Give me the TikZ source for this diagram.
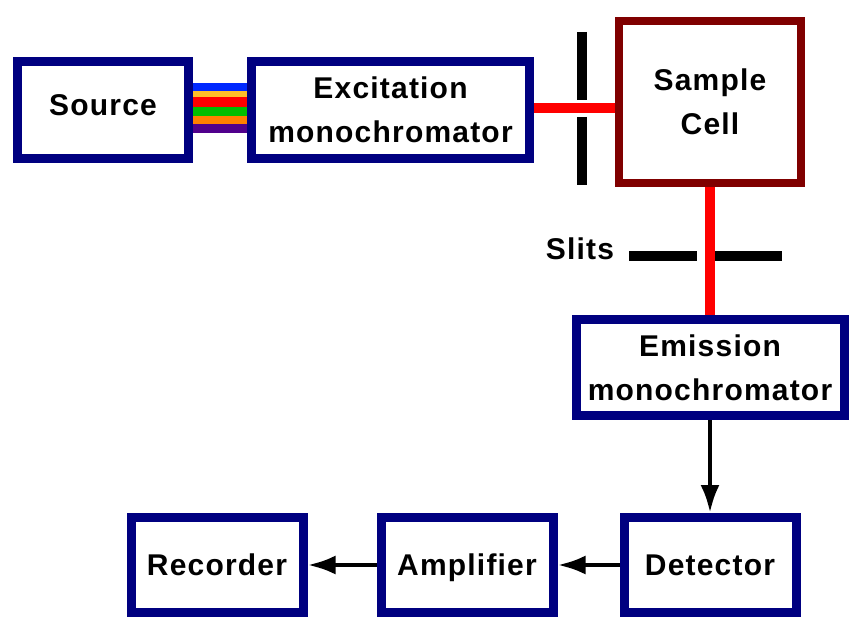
\documentclass[tikz,border=0pt]{standalone}
\usepackage{fontspec}
\setmainfont{Liberation Sans}[LetterSpace=4]
\usepackage{tikz}
\usetikzlibrary{arrows.meta,positioning}
\definecolor{boxblue}{RGB}{0,0,128}
\definecolor{cellred}{RGB}{128,0,0}
\definecolor{rbblue}{RGB}{0,40,255}
\definecolor{rbgold}{RGB}{255,190,40}
\definecolor{rbred}{RGB}{255,0,0}
\definecolor{rbgreen}{RGB}{0,190,0}
\definecolor{rborange}{RGB}{255,128,0}
\definecolor{rbviolet}{RGB}{80,0,140}

\begin{document}
\begin{tikzpicture}[
      x=1pt, y=-1pt,
      font=\bfseries\fontsize{30}{44}\selectfont,
      box/.style={draw=boxblue, line width=9pt, fill=white, align=center, inner sep=0pt, minimum width=172pt, minimum height=95pt},
      oneline/.style={text height=21.5pt, text depth=0pt},
      beam/.style={rbred, line width=10pt},
      slit/.style={black, line width=10pt},
      arrow/.style={-{Latex[length=28pt,width=19pt]}, line width=4.5pt}
    ]
    \useasboundingbox (0,0) rectangle (853,617);
    \node[box, oneline, text depth=11pt, minimum width=171pt, minimum height=97pt] (source) at (103,110) {Source};
    \node[box, minimum width=278pt, minimum height=97pt, right=54pt of source] (excit) {Excitation\\monochromator};
    \node[box, draw=cellred, line width=8pt, minimum width=182pt, minimum height=162pt] (cell) at (710,102) {Sample\\Cell};
    \node[box, minimum width=268pt, minimum height=96pt, below=128pt of cell] (emission) {Emission\\monochromator};
    \node[box, oneline, below=93pt of emission] (detector) {Detector};
    \node[box, oneline, left=62pt of detector] (amp) {Amplifier};
    \node[box, oneline, left=69pt of amp] (recorder) {Recorder};
    \foreach \col/\ya/\yb in {rbblue/83/91, rbgold/91/97, rbred/97/107, rbgreen/107/116, rborange/116/124, rbviolet/124/133}
      \fill[\col] (source.east |- 0,\ya) rectangle (excit.west |- 0,\yb);
    \draw[beam] ([yshift=2pt]excit.east) -- ([yshift=2pt]excit.east -| cell.west);
    \draw[beam] (cell.south) -- (cell.south |- emission.north);
    \draw[slit] (582,32) -- (582,100);
    \draw[slit] (582,117) -- (582,185);
    \draw[slit] (629,256) -- (697,256);
    \draw[slit] (715,256) -- (782,256);
    \node (slitlabel) at (580,249) {Slits};
    \draw[arrow] (emission.south) -- (emission.south |- detector.north);
    \draw[arrow] (detector.west) -- (amp.east);
    \draw[arrow] (amp.west) -- (recorder.east);
  \end{tikzpicture}
\end{document}
